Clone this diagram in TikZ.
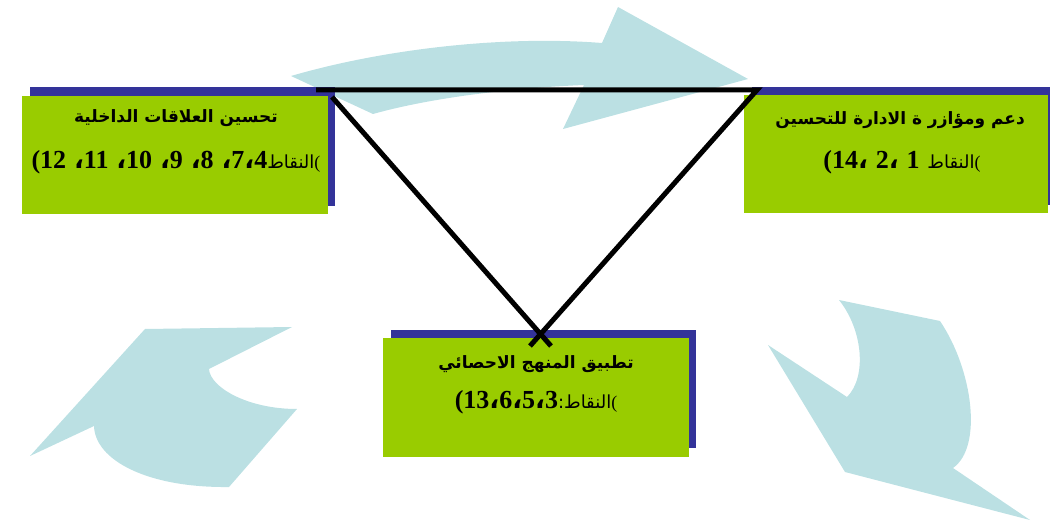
\documentclass[tikz,border=0pt]{standalone}
\usepackage{fontspec}
\TeXXeTstate=1
\newfontfamily\arabicfont[Script=Arabic]{DejaVu Sans}
\newfontfamily\numfont{Liberation Serif}
\definecolor{cyclefill}{HTML}{BBE0E3}
\definecolor{boxgreen}{HTML}{99CC00}
\definecolor{boxshadow}{HTML}{333399}

% Arabic word, numbers in bold serif, Arabic comma, small opening bracket
\newcommand\arword[1]{{\arabicfont\fontsize{18}{20}\selectfont\beginR #1\endR}}
\newcommand\numb[1]{{\numfont\bfseries #1}}
\newcommand\arcomma{{\arabicfont\bfseries ،}}
\newcommand\smallparen{{\numfont\fontsize{18}{20}\selectfont(}}
\newcommand\titlesize{\fontsize{17}{19}\selectfont}
\newcommand\pointsize{\fontsize{26}{28}\selectfont}

\tikzset{
  panel/.style={rectangle, inner sep=0pt, outer sep=0pt, draw=none, fill=boxgreen},
  panelshadow/.style={rectangle, inner sep=0pt, outer sep=0pt, draw=none, fill=boxshadow},
  titletext/.style={inner sep=0pt, font=\arabicfont\bfseries\titlesize},
  pointtext/.style={inner sep=0pt, font=\pointsize},
  cyclearrow/.style={fill=cyclefill, draw=none},
  trianglestroke/.style={draw=black, line width=5pt, line join=miter}
}

\begin{document}
\begin{tikzpicture}[x=1pt, y=-1pt]
\useasboundingbox (0,0) rectangle (1050,521);

% curved cycle arrows in the background
\fill[cyclearrow] (291,76) .. controls (380,50) and (500,35) .. (602,43)
  -- (618,7) -- (748,79) -- (563,129) -- (584,85)
  .. controls (510,88) and (430,98) .. (373,114) -- cycle;
\fill[cyclearrow] (839,300) -- (940,321)
  .. controls (973,370) and (983,447) .. (953,468)
  -- (1030,520) -- (845,472) -- (768,345) -- (847,397)
  .. controls (867,377) and (863,330) .. cycle;
\fill[cyclearrow] (145,329) -- (292,327) -- (209,369)
  .. controls (210,387) and (247,409) .. (297,409)
  -- (229,487) .. controls (147,488) and (95,460) .. (94,426)
  -- (30,456) -- cycle;

% panels with offset shadows
\node[panelshadow, minimum width=305pt, minimum height=119pt] (leftshadow) at (182.5,146.5) {};
\node[panel, minimum width=306pt, minimum height=118pt] (leftpanel) at (175,155) {};
\node[panelshadow, minimum width=298pt, minimum height=118pt] (rightshadow) at (901,146) {};
\node[panel, minimum width=304pt, minimum height=118pt] (rightpanel) at (896,154) {};
\node[panelshadow, minimum width=305pt, minimum height=118pt] (bottomshadow) at (543.5,389) {};
\node[panel, minimum width=306pt, minimum height=119pt] (bottompanel) at (536,397.5) {};

% panel texts
\node[titletext] (lefttitle) at (176,118) {\beginR تحسين العلاقات الداخلية\endR};
\node[pointtext] (leftpoints) at (176,162)
  {\numb{(12} \arcomma\numb{11} \arcomma\numb{10} \arcomma\numb{9} \arcomma\numb{8} \arcomma\numb{7}\arcomma\numb{4}\arword{النقاط}\smallparen};

\node[titletext] (righttitle) at (900,120) {\beginR دعم ومؤازر ة الادارة للتحسين\endR};
\node[pointtext] (rightpoints) at (902,162)
  {\numb{(14}\arcomma\ \numb{2}\arcomma\ \numb{1} \arword{النقاط}\smallparen};

\node[titletext] (bottomtitle) at (536,364) {\beginR تطبيق المنهج الاحصائي\endR};
\node[pointtext] (bottompoints) at (536,402)
  {\numb{(13}\arcomma\numb{6}\arcomma\numb{5}\arcomma\numb{3}{\arabicfont\fontsize{18}{20}\selectfont:}\arword{النقاط}\smallparen};

% open triangle linking the three panels
\coordinate (topleft) at (316,90);
\coordinate (topright) at (757,90);
\coordinate (leftstart) at (332,97);
\coordinate (leftend) at (551,346);
\coordinate (rightend) at (530,346);
\draw[trianglestroke] (topleft) -- (topright) -- (rightend);
\draw[trianglestroke] (leftstart) -- (leftend);
\end{tikzpicture}
\end{document}
